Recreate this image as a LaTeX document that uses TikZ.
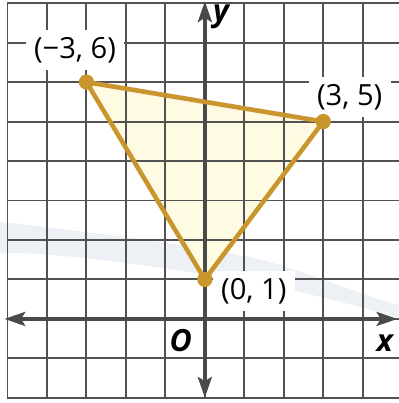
\documentclass[tikz,border=0pt]{standalone}
\usepackage{fontspec}
\setmainfont{Open Sans}
\usetikzlibrary{arrows.meta}
\definecolor{gridc}{HTML}{525252}
\definecolor{axisc}{HTML}{4A4A4A}
\definecolor{gold}{HTML}{C9962E}
\definecolor{trifill}{HTML}{FFFAE2}
\definecolor{bandc}{HTML}{EDF1F5}
\begin{document}
\begin{tikzpicture}[x=1cm,y=1cm,
  gridline/.style={draw=gridc, line width=1.4pt},
  axisline/.style={draw=axisc, line width=2.8pt,
    {Stealth[length=15pt,width=10pt,inset=3pt]}-{Stealth[length=15pt,width=10pt,inset=3pt]}},
  edgeline/.style={draw=gold, line width=3.3pt, line join=round},
  vdot/.style={circle, fill=gold, inner sep=0pt, minimum size=11pt},
  coordlbl/.style={fill=white, font=\fontsize{21}{24}\selectfont, inner xsep=6pt, inner ysep=5pt},
  axlbl/.style={font=\fontsize{22}{24}\selectfont\bfseries\itshape, inner sep=0pt}]
\useasboundingbox (-5.19,-2.13) rectangle (4.91,8.08);
\fill[white] (-5.19,-2.13) rectangle (4.91,8.08);
% faint band
\fill[bandc] (-5.19,2.46) .. controls (-2,2.1) and (0.5,1.75) .. (1.65,1.44)
  .. controls (2.8,1.1) and (4,0.6) .. (4.91,0.35) -- (4.91,0.03)
  .. controls (4,0.3) and (3,0.55) .. (2.41,0.68)
  .. controls (1.2,0.95) and (-1,1.3) .. (-2.66,1.5)
  .. controls (-3.6,1.6) and (-4.5,1.7) .. (-5.19,1.65) -- cycle;
% vertices
\coordinate (A) at (-3,6);
\coordinate (B) at (3,5);
\coordinate (C) at (0,1);
\fill[trifill] (A) -- (B) -- (C) -- cycle;
% grid
\foreach \x in {-5,...,4} \draw[gridline] (\x,-2) -- (\x,8);
\foreach \y in {-2,...,8} \draw[gridline] (-5,\y) -- (4.91,\y);
% axes
\coordinate (xl) at (-5.08,0);
\coordinate (xr) at (4.88,0);
\coordinate (yb) at (0,-2.0);
\coordinate (yt) at (0,8.05);
\draw[axisline] (xl) -- (xr);
\draw[axisline] (yb) -- (yt);
% coordinate labels
\node[coordlbl] (lA) at (-3.29,6.81) {(−3, 6)};
\node[coordlbl] (lB) at (3.67,5.62) {(3, 5)};
\node[coordlbl] (lC) at (1.24,0.71) {(0, 1)};
% triangle
\draw[edgeline] (A) -- (B) -- (C) -- cycle;
\node[vdot] (dA) at (A) {};
\node[vdot] (dB) at (B) {};
\node[vdot] (dC) at (C) {};
% axis labels
\node[axlbl] (lO) at (-0.61,-0.56) {O};
\node[axlbl] (lx) at (4.56,-0.61) {x};
\node[axlbl] (ly) at (0.41,7.65) {y};
\end{tikzpicture}
\end{document}
